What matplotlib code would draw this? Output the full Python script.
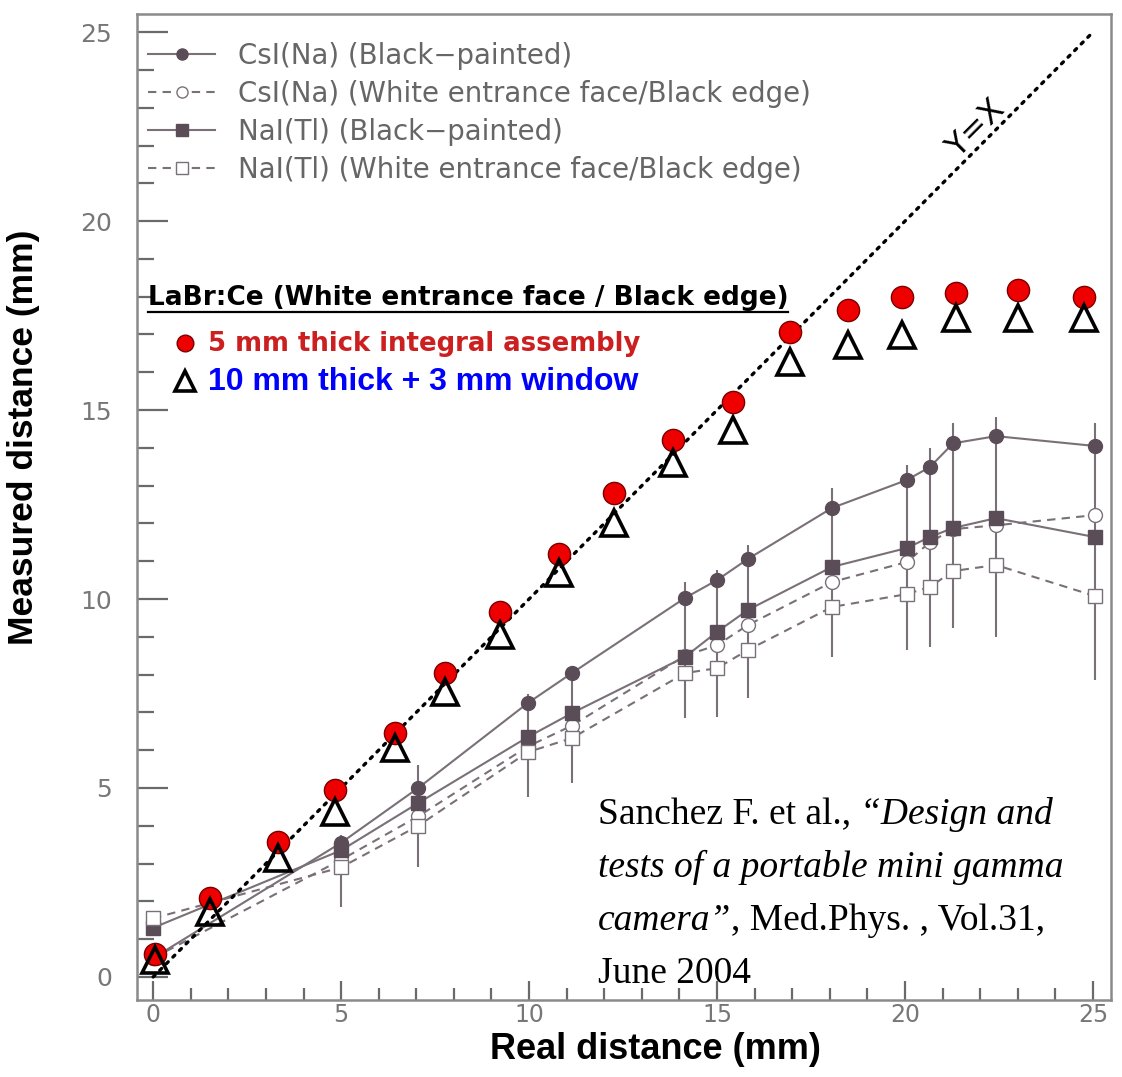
import matplotlib
matplotlib.use('Agg')

import matplotlib.pyplot as plt
from matplotlib.lines import Line2D
from matplotlib.ticker import MultipleLocator

# LaBr:Ce points (white entrance face / black edge)
x_labr = [0.05, 1.52, 3.32, 4.84, 6.44, 7.77, 9.23, 10.8, 12.26, 13.83, 15.43,
          16.94, 18.48, 19.92, 21.36, 23.0, 24.76]
y_5mm = [0.6, 2.09, 3.57, 4.95, 6.46, 8.05, 9.66, 11.19, 12.8, 14.2, 15.21,
         17.06, 17.65, 17.99, 18.09, 18.17, 18.0]
y_10mm = [0.45, 1.72, 3.15, 4.37, 6.06, 7.54, 9.05, 10.69, 12.0, 13.6, 14.47,
          16.27, 16.72, 16.98, 17.43, 17.43, 17.43]

# Sanchez et al. reference curves
x_ref = [0, 5.0, 7.05, 9.97, 11.14, 14.15, 15.0, 15.82, 18.06, 20.05, 20.66,
         21.28, 22.42, 25.05]
csi_black = [0.5, 3.55, 5.0, 7.25, 8.04, 10.03, 10.5, 11.06, 12.41, 13.15, 13.49,
             14.12, 14.31, 14.05]
csi_white = [0.5, 3.1, 4.25, 6.1, 6.65, 8.5, 8.78, 9.31, 10.45, 10.98, 11.5,
             11.85, 11.95, 12.22]
nai_black = [1.3, 3.35, 4.6, 6.35, 6.98, 8.47, 9.13, 9.71, 10.85, 11.35, 11.64,
             11.88, 12.14, 11.64]
nai_white = [1.55, 2.9, 4.0, 5.95, 6.32, 8.04, 8.17, 8.65, 9.79, 10.13, 10.32,
             10.74, 10.9, 10.08]
err_lo = [1.2, 1.85, 2.9, 4.76, 5.13, 6.85, 6.88, 7.38, 8.47, 8.65, 8.73, 9.23, 8.99, 7.86]
err_hi = [1.6, 3.76, 5.6, 7.5, 8.2, 10.45, 10.77, 11.43, 12.94, 13.54, 13.99, 14.66, 14.81, 14.66]

ref_labels = ['CsI(Na) (Black\u2212painted)',
              'CsI(Na) (White entrance face/Black edge)',
              'NaI(Tl) (Black\u2212painted)',
              'NaI(Tl) (White entrance face/Black edge)']
labr_title = 'LaBr:Ce (White entrance face / Black edge)'
labr_labels = ['5 mm thick integral assembly', '10 mm thick + 3 mm window']

GRAY = '#5b4d57'
LGRAY = '#7a7078'

fig = plt.figure(figsize=(11.22, 10.77), dpi=100)
ax = fig.add_axes([0.1221, 0.0715, 0.8681, 0.9155])
ax.set_xlim(-0.43, 25.48)
ax.set_ylim(-0.61, 25.48)

# error bars
ax.vlines(x_ref, err_lo, err_hi, color=LGRAY, lw=1.5, zorder=1)

l1, = ax.plot(x_ref, csi_black, '-', color=LGRAY, lw=1.5, marker='o', ms=10,
              mfc=GRAY, mec=GRAY, zorder=2)
l2, = ax.plot(x_ref, csi_white, '--', color=LGRAY, lw=1.5, dashes=(4, 3),
              marker='o', ms=10, mfc='white', mec=LGRAY, zorder=2)
l3, = ax.plot(x_ref, nai_black, '-', color=LGRAY, lw=1.5, marker='s', ms=10,
              mfc=GRAY, mec=GRAY, zorder=2)
l4, = ax.plot(x_ref, nai_white, '--', color=LGRAY, lw=1.5, dashes=(4, 3),
              marker='s', ms=10, mfc='white', mec=LGRAY, zorder=2)

# y = x reference
ax.plot([0, 25], [0, 25], color='black', lw=2.4, linestyle=(0, (0.8, 2.0)),
        dash_capstyle='round', zorder=3)
ax.text(21.9, 22.45, 'Y=X', rotation=45, rotation_mode='anchor',
        ha='center', va='center', fontsize=23, color='black')

r, = ax.plot(x_labr, y_5mm, 'o', ms=16, mfc='#ee0000', mec='#7a0000', mew=1.0, zorder=4)
t, = ax.plot(x_labr, y_10mm, '^', ms=19, mfc='none', mec='black', mew=2.6, zorder=5)

# axes styling
for s in ax.spines.values():
    s.set_color('#8a8a8a')
    s.set_linewidth(1.8)
ax.xaxis.set_major_locator(MultipleLocator(5))
ax.xaxis.set_minor_locator(MultipleLocator(1))
ax.yaxis.set_major_locator(MultipleLocator(5))
ax.yaxis.set_minor_locator(MultipleLocator(1))
ax.tick_params(which='both', direction='in', color='#6a6a6a', width=1.6,
               labelcolor='#777777', labelsize=18, top=False, right=False)
ax.tick_params(which='major', length=14)
ax.tick_params(which='minor', length=9)
ax.tick_params(axis='x', which='major', pad=2, labelsize=17)
ax.tick_params(axis='y', which='major', length=22, pad=18)
ax.tick_params(axis='y', which='minor', length=12)

lab_font = dict(family=['Liberation Sans Narrow', 'Liberation Sans'],
                fontweight='bold', color='black')
ax.set_xlabel('Real distance (mm)', fontsize=26, **lab_font)
ax.set_ylabel('Measured distance (mm)', fontsize=25.5, **lab_font)
ax.xaxis.set_label_coords(0.532, -0.032)
ax.yaxis.set_label_coords(-0.1, 0.571)

# legends
leg1 = ax.legend([l1, l2, l3, l4], ref_labels, loc='upper left',
                 bbox_to_anchor=(0.011, 0.9716), frameon=False, numpoints=1,
                 handlelength=2.45, handletextpad=0.8, labelspacing=0.36,
                 borderpad=0, borderaxespad=0, markerscale=0.8,
                 prop=dict(family='DejaVu Sans', size=19.9))
for txt in leg1.get_texts():
    txt.set_color('#666666')
ax.add_artist(leg1)

title = ax.text(0.011, 0.712, labr_title, transform=ax.transAxes, ha='left',
                va='center', fontsize=19, fontweight='bold', color='black')

leg2 = ax.legend([r, t], labr_labels, loc='upper left',
                 bbox_to_anchor=(0.038, 0.678), frameon=False, numpoints=1,
                 handlelength=0.9, handletextpad=0.45, labelspacing=0.38,
                 borderpad=0, borderaxespad=0, markerscale=0.75,
                 prop=dict(size=18))
lt = leg2.get_texts()
lt[0].set_color('#cc1f1f')
lt[0].set_fontweight('bold')
lt[0].set_fontsize(18.75)
lt[1].set_color('#0000ff')
lt[1].set_family('Liberation Sans')
lt[1].set_fontweight('bold')
lt[1].set_fontsize(23)

# citation, mixed roman / italic
serif = dict(family='Liberation Serif', fontsize=27, color='black')
line_ys = [0.170, 0.1163, 0.0626, 0.0089]
parts = [[('Sanchez F. et al., ', 'normal'), ('\u201cDesign and', 'italic')],
         [('tests of a portable mini gamma', 'italic')],
         [('camera\u201d', 'italic'), (', Med.Phys. , Vol.31,', 'normal')],
         [('June 2004', 'normal')]]
for yy, segs in zip(line_ys, parts):
    prev = None
    for txt, style in segs:
        if prev is None:
            prev = ax.text(0.4733, yy, txt, transform=ax.transAxes, ha='left',
                           va='bottom', style=style, **serif)
        else:
            prev = ax.annotate(txt, xy=(1, 0), xycoords=prev, ha='left',
                               va='bottom', style=style, **serif)

# underline the LaBr:Ce title
fig.canvas.draw()
bb = title.get_window_extent()
inv = fig.transFigure.inverted()
(x0, y0), (x1, _) = inv.transform([(bb.x0, bb.y0 - 1), (bb.x1, bb.y0 - 1)])
fig.add_artist(Line2D([x0, x1], [y0, y0], color='black', lw=1.6,
                      transform=fig.transFigure))

fig.savefig('out.png', dpi=100)
